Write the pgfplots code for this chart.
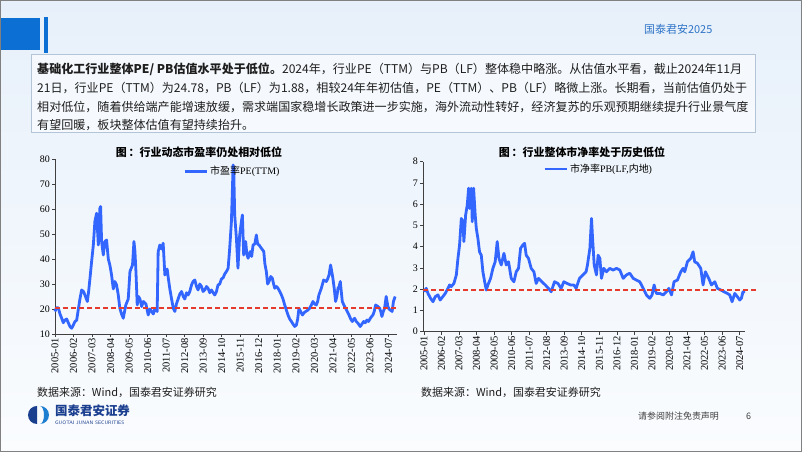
\documentclass[border=0pt]{standalone}
\usepackage{pgfplots}
\pgfplotsset{compat=1.18}
\usepackage{fontspec}
\setmainfont{Liberation Serif}
\newfontfamily\cjk{Noto Sans CJK SC}
\definecolor{slideblue}{HTML}{0B6FD3}
\definecolor{bgtop}{HTML}{E7F0FA}
\definecolor{bgbot}{HTML}{FAFCFE}
\definecolor{boxline}{HTML}{B2C4D6}
\definecolor{hdrtext}{HTML}{2F74C7}
\definecolor{pelinecol}{HTML}{3366FF}
\definecolor{refred}{HTML}{E53A2E}
\definecolor{logodark}{HTML}{1B3F8F}
\definecolor{logoblue}{HTML}{1E7FD0}
\definecolor{bodytext}{HTML}{1E1E1E}

\pgfplotsset{
  slide axis/.style={
    scale only axis, anchor=south west, clip=false,
    axis x line*=bottom, axis y line*=left,
    axis line style={black!75, line width=0.8bp},
    tick style={black!75, line width=0.6bp},
    tick align=outside, major tick length=3bp,
    xtick={0,13,...,234},
    xticklabels={2005-01,2006-02,2007-03,2008-04,2009-05,2010-06,2011-07,2012-08,2013-09,2014-10,2015-11,2016-12,2018-01,2019-02,2020-03,2021-04,2022-05,2023-06,2024-07},
    x tick label style={rotate=90, anchor=east, font=\fontsize{10.5}{10.5}\selectfont, inner sep=1.2bp},
    y tick label style={font=\fontsize{10}{10}\selectfont, inner sep=2bp},
    /pgf/number format/assume math mode=true,
    legend style={draw=none, fill=none, inner sep=0pt, font=\fontsize{10}{12}\selectfont},
    legend cell align=left,
    legend image code/.code={\draw[#1, line width=2.8bp] (0bp,0bp) -- (22bp,0bp);},
  },
  data line/.style={pelinecol, line width=2.8bp, line join=round},
}

\begin{document}
\begin{tikzpicture}[x=1bp,y=1bp]
\useasboundingbox (0,0) rectangle (802,452);
\shade[top color=bgtop, bottom color=bgbot] (0,0) rectangle (802,452);

% header
\fill[slideblue] (0,434) rectangle (40,402);
\fill[slideblue] (44,435) rectangle (48,399);
\node[anchor=west, inner sep=0, text=hdrtext] at (644,423) {\cjk\fontsize{11}{11}\selectfont 国泰君安2025};

% text box
\filldraw[fill=white, fill opacity=0.55, draw=boxline, line width=1bp] (31,397) rectangle (755,319);
\begin{scope}[every node/.style={anchor=base west, inner sep=0, text=bodytext, font=\cjk\fontsize{12.1}{12}\selectfont}]
\node at (37,378.5) {{\bfseries 基础化工行业整体PE/ PB估值水平处于低位。}2024年，行业PE（TTM）与PB（LF）整体稳中略涨。从估值水平看，截止2024年11月};
\node at (37,359.5) {21日，行业PE（TTM）为24.78，PB（LF）为1.88，相较24年年初估值，PE（TTM）、PB（LF）略微上涨。长期看，当前估值仍处于};
\node at (37,340.8) {相对低位，随着供给端产能增速放缓，需求端国家稳增长政策进一步实施，海外流动性转好，经济复苏的乐观预期继续提升行业景气度};
\node at (37,322.5) {有望回暖，板块整体估值有望持续抬升。};
\end{scope}

% chart titles
\node[font=\cjk\bfseries\fontsize{11}{11}\selectfont] at (199,300) {图\,：行业动态市盈率仍处相对低位};
\node[font=\cjk\bfseries\fontsize{11}{11}\selectfont] at (582,300) {图\,：行业整体市净率处于历史低位};

% left chart: PE(TTM)
\begin{axis}[slide axis, at={(55bp,118bp)}, width=342bp, height=175bp,
  xmin=0, xmax=240, ymin=10, ymax=80, ytick={10,20,...,80},
  legend style={at={(0.375,0.93)}, anchor=west}]
\addplot[data line] coordinates {
(0,19)(1,20.5)(2.3,20.5)(3.5,18)(4.7,16.3)(5.8,14.5)(7,15.6)(8.2,16)(9.3,14.5)(10.5,13)(11.7,12.3)(12.8,13.5)(14,15)(15.2,15.5)(16.4,20)(17.5,24)(18.7,27.6)(20,27)(21,25.6)(22.7,23)(23.6,27)(24.5,32)(25.7,39)(26.9,45.6)(28,55)(29.2,58.3)(30.4,45.6)(31.5,60.3)(32,61)(32.7,47)(33.9,41.6)(35,47)(36.2,47.6)(37.4,40)(38.5,37.6)(39.7,33.6)(40.9,28)(42,31)(43.2,29.6)(44.4,25.6)(45.5,20.3)(46.7,18)(47.9,16.3)(48.8,19)(49.7,21.6)(51.4,24)(52.6,35)(54.4,37.6)(55.4,47)(56.1,43)(56.8,35)(57.7,21.6)(58.6,25)(59.6,24)(60.8,21)(62,23)(63.8,22)(65.4,17.6)(66.6,20)(67.8,19)(69,18)(70.1,20.3)(71.7,19)(72.4,43)(73.6,45.6)(74.8,44)(75.9,46.3)(77.1,33.6)(78.7,36)(79.6,32)(80.6,28)(81.8,24)(83,20.3)(84.1,19)(85.2,22)(86.4,24)(87.6,26)(88.8,27)(90,25)(91.1,24)(92.3,26.5)(93.4,25.6)(94.6,27)(95.8,29.6)(96.9,31)(98.1,31.6)(99.3,29)(100.4,27.6)(101.6,30)(102.8,29)(103.9,27)(105.1,27.6)(106.3,29)(107.4,28.3)(108.6,26.5)(109.8,27.6)(111,26.5)(112.1,25.6)(113.3,27)(114.4,29.6)(115.6,30)(116.8,32)(118,32.5)(119.1,34)(120.3,35)(121.5,36.3)(122.6,44.3)(123.8,55)(124.5,68)(125,77.6)(125.5,73.6)(126.1,57.6)(127.3,48.3)(128.4,36.3)(129.6,49.6)(130.8,55)(131.5,57.6)(132.4,41.6)(133.8,47)(134.6,42)(135.5,40.3)(137,43)(138,41)(139,45.6)(140.2,46)(141.3,49.6)(142.2,46)(143.2,45.6)(144.8,44.3)(146.5,43)(147.3,38)(148.3,35)(149.2,30)(150.2,31)(151.4,33)(152.5,32.3)(153.4,30)(154.2,28.3)(155.3,29)(156.5,28.3)(157.7,27)(158.9,25.6)(160,24)(161.2,21.6)(162.4,19.5)(163.5,17.6)(164.7,16)(165.9,15)(167,14)(168.2,13)(169.4,13.6)(170.3,16)(171.2,20.3)(172.4,19)(173.6,17.6)(174.8,18.5)(175.9,19)(177.3,19.5)(178.7,20.3)(179.8,21.5)(181,23)(182.2,22)(183.4,21.6)(184.3,23)(185.2,25.6)(186.9,28.3)(188.5,31.6)(190.4,31)(191.3,32)(192.3,33.6)(193.4,37.6)(194.2,35)(195,32.3)(196,28)(196.9,23)(197.8,25)(198.6,28.3)(199.4,29)(200.2,31)(200.9,27)(201.6,23)(202.8,21.5)(203.9,20.3)(205.1,19)(206.3,17.6)(207.5,16)(208.6,15)(210.2,16.3)(211.4,15)(212.6,14.3)(214.2,13)(215.4,14)(216.6,15)(217.7,14.5)(218.9,15.6)(220,15)(221.3,16.3)(222.2,17)(223.1,17.6)(224,19)(225,21.6)(226.6,21)(227.8,20.3)(228.6,19)(229.4,17)(230.4,19)(231.3,20.3)(232.4,25)(233.6,21)(234.4,20)(235.2,19.6)(236.6,19)(237.5,23)(238.7,25)
};
\addlegendentry{{\cjk 市盈率}PE(TTM)}
\addplot[color=refred, line width=1.6bp, dash pattern=on 5bp off 3bp, forget plot] coordinates {(0,20.5)(239.5,20.5)};
\end{axis}

% right chart: PB(LF)
\begin{axis}[slide axis, at={(423bp,120.3bp)}, width=322bp, height=170bp,
  xmin=-0.7, xmax=238, ymin=0, ymax=8, ytick={0,1,...,8},
  legend style={at={(0.373,0.957)}, anchor=west}]
\addplot[data line] coordinates {
(0,1.88)(1.7,2.04)(3,1.8)(4.9,1.57)(6.7,1.41)(8.4,1.65)(10.4,1.73)(12,1.49)(14,1.65)(15.8,1.8)(17.8,2.04)(19,2.2)(20.2,2.12)(22.2,2.27)(24,2.67)(25.2,3.45)(26.4,4.08)(27.7,5.33)(28.9,5.18)(29.6,4.24)(30.9,5.49)(32.1,5.96)(33.1,6.75)(33.8,5.8)(35.1,6.75)(35.8,5.18)(36.8,6.75)(38,5.49)(38.8,4.86)(40,4.39)(41.2,3.76)(42.5,3.6)(43.7,2.82)(45,2.35)(46.2,1.96)(47.4,2.2)(49.4,2.51)(51.1,2.98)(52.8,3.29)(54.3,4.24)(55.6,3.45)(57.3,3.14)(59.3,3.69)(61,3.14)(62.7,3.29)(64.7,2.51)(66.7,2.35)(68.4,2.82)(70.1,2.98)(71.6,3.92)(73.3,4.08)(74.6,4.16)(75.8,3.6)(77.5,3.45)(79.5,2.98)(81.5,2.82)(83.2,2.27)(84.9,2.51)(87.4,2.35)(89.9,2.2)(92.3,2.04)(94.3,1.88)(96.8,2.35)(99.3,2.27)(101.7,2.04)(103.7,2.35)(106.2,2.27)(108.6,2.2)(111.1,2.2)(112.8,2.04)(115.3,2.51)(117.8,2.67)(120.2,2.82)(121.2,3.14)(123,3.92)(124.2,5.33)(125,4.39)(126.2,3.14)(127.9,2.67)(129.1,3.6)(130.4,3.45)(131.6,2.51)(133.3,2.98)(135.3,2.82)(137.8,2.98)(140.2,2.9)(142.7,2.98)(145.2,2.9)(147.7,2.51)(150.1,2.67)(152.6,2.75)(155.1,2.51)(157.5,2.43)(160,2.35)(162.5,2.04)(164.9,1.73)(167.4,1.57)(169.1,1.73)(170.6,2.2)(172.3,1.8)(174.8,1.8)(177.3,1.73)(179.8,1.88)(181.5,2.04)(183.5,1.73)(185.4,2.35)(187.9,2.43)(190.4,2.82)(192.1,2.98)(193.3,2.82)(195.3,3.29)(197.8,3.45)(199.5,3.76)(200.7,3.29)(202.7,3.22)(205.2,2.98)(206.9,2.2)(208.6,2.82)(211.1,2.51)(213.1,2.2)(215.6,2.35)(217.5,2.04)(220,1.96)(222.5,1.88)(224.9,1.8)(226.7,1.73)(228.4,1.41)(230.4,1.8)(232.3,1.65)(234.1,1.49)(235.3,1.57)(236.5,1.88)(238,1.88)
};
\addlegendentry{{\cjk 市净率}PB(LF,{\cjk 内地})}
\addplot[color=refred, line width=1.6bp, dash pattern=on 5bp off 3bp, forget plot] coordinates {(-0.7,1.96)(246.5,1.96)};
\end{axis}

% sources
\node[anchor=west, inner sep=0, text=bodytext, font=\cjk\fontsize{11}{11}\selectfont] at (37,60) {数据来源：Wind，国泰君安证券研究};
\node[anchor=west, inner sep=0, text=bodytext, font=\cjk\fontsize{11}{11}\selectfont] at (421,60) {数据来源：Wind，国泰君安证券研究};

% footer logo
\fill[logodark] (37,28) arc(270:90:9) -- cycle;
\fill[logoblue] (40,28) arc(-90:90:9) -- (40,46) arc(90:-90:4 and 9) -- cycle;
\node[anchor=west, inner sep=0, text=logodark, font=\cjk\bfseries\fontsize{12.5}{12.5}\selectfont] at (55,41) {国泰君安证券};
\node[anchor=west, inner sep=0, text=logodark, font=\sffamily\fontsize{5}{5}\selectfont] at (55,29) {GUOTAI JUNAN SECURITIES};
\node[anchor=west, inner sep=0, text=black!75, font=\cjk\fontsize{9}{9}\selectfont] at (638,36) {请参阅附注免责声明};
\node[anchor=west, inner sep=0, text=black!75, font=\cjk\fontsize{9}{9}\selectfont] at (746,36) {6};

% slide frame
\draw[black!50, line width=1.2bp] (0.6,0.6) rectangle (801.4,451.4);
\end{tikzpicture}
\end{document}
